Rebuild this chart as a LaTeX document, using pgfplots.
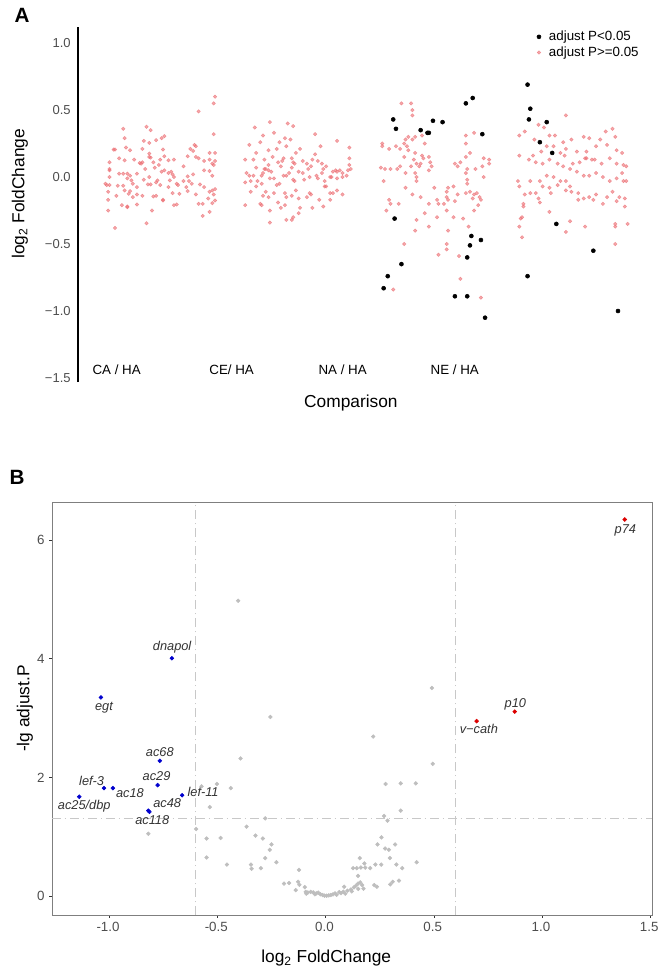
\documentclass[border=0pt]{standalone}
\usepackage{fontspec}
\setmainfont{Liberation Sans}
\usepackage{pgfplots}
\usepackage{pgfplotstable}
\pgfplotsset{compat=1.18}
\definecolor{pinkpt}{RGB}{236,110,115}
\definecolor{tickgrey}{RGB}{77,77,77}
\definecolor{greypt}{RGB}{190,190,190}
\definecolor{bluept}{RGB}{0,0,205}
\definecolor{redpt}{RGB}{220,0,0}
\definecolor{boxgrey}{RGB}{127,127,127}
\definecolor{refgrey}{RGB}{200,200,200}
\definecolor{genegrey}{RGB}{51,51,51}

% Panel A: jittered log2 fold changes (x = category 1..4 + jitter)
\pgfplotstableread{
x y
1.39 0.60
1.38 0.55
1.27 0.49
1.38 0.32
0.72 0.36
0.89 0.375
0.92 0.35
1.02 0.305
1.00 0.29
0.73 0.29
0.87 0.27
0.91 0.255
0.96 0.275
0.65 0.205
0.66 0.205
0.74 0.22
0.77 0.20
0.86 0.21
0.91 0.175
1.01 0.205
1.02 0.155
0.99 0.13
1.21 0.21
1.24 0.24
1.25 0.23
1.23 0.195
1.25 0.15
1.27 0.14
1.35 0.18
1.39 0.18
1.31 0.12
1.35 0.13
1.39 0.12
1.37 0.10
1.38 0.09
0.62 0.11
0.69 0.14
0.73 0.125
0.80 0.13
0.84 0.105
0.85 0.10
0.86 0.11
0.91 0.15
0.92 0.145
0.95 0.07
0.94 0.11
0.98 0.09
1.05 0.125
1.09 0.13
1.16 0.08
1.19 0.155
0.62 0.06
0.62 0.05
0.69 0.025
0.72 0.025
0.75 0.025
0.77 0.01
0.82 0.025
0.88 0.06
0.87 -0.02
0.91 0.0
0.92 -0.055
0.96 -0.04
0.97 -0.025
1.00 0.04
1.02 0.05
1.05 0.03
1.07 0.04
1.08 0.02
1.09 0.0
1.06 -0.025
1.11 -0.05
1.12 -0.06
1.16 -0.03
1.19 0.005
1.20 -0.03
1.23 0.02
1.31 0.05
1.35 0.045
1.37 0.01
0.59 -0.05
0.60 -0.06
0.62 -0.06
0.62 0.0
0.68 -0.065
0.72 -0.065
0.75 -0.01
0.78 -0.025
0.79 -0.05
0.82 -0.075
0.90 -0.055
0.99 -0.06
1.05 -0.075
1.13 -0.125
1.19 -0.105
1.18 -0.075
1.22 -0.05
1.28 -0.055
1.31 -0.075
1.35 -0.11
1.37 -0.10
1.39 -0.09
0.61 -0.11
0.67 -0.14
0.73 -0.10
0.77 -0.105
0.76 -0.125
0.79 -0.15
0.82 -0.13
0.86 -0.14
0.94 -0.145
0.96 -0.14
1.08 -0.12
1.25 -0.13
1.38 -0.13
0.61 -0.17
0.71 -0.21
0.75 -0.225
0.75 -0.22
0.82 -0.205
0.93 -0.25
1.01 -0.17
1.01 -0.175
1.09 -0.21
1.11 -0.205
1.27 -0.20
1.30 -0.20
1.30 -0.29
1.34 -0.16
1.37 -0.195
0.61 -0.25
0.66 -0.38
0.89 -0.345
1.35 -0.26
1.39 -0.175
1.79 0.41
1.92 0.40
1.96 0.38
1.68 0.37
1.82 0.33
1.74 0.31
2.12 0.32
1.90 0.29
1.94 0.28
1.86 0.26
1.72 0.26
1.64 0.24
2.28 0.27
1.84 0.21
2.01 0.21
2.37 0.22
2.16 0.23
1.78 0.20
1.91 0.23
1.98 0.18
1.69 0.18
2.12 0.17
1.81 0.15
1.89 0.14
1.95 0.14
2.37 0.14
1.67 0.13
1.75 0.13
1.88 0.12
1.96 0.11
2.03 0.12
2.10 0.13
2.14 0.12
1.78 0.09
1.85 0.11
1.87 0.08
1.75 0.06
1.76 0.06
1.78 0.05
1.80 0.04
1.74 0.03
1.69 0.07
1.73 0.01
1.95 0.07
1.97 0.10
2.06 0.10
2.09 0.08
2.17 0.10
2.20 0.08
2.27 0.05
2.28 0.04
2.30 0.05
2.32 0.03
2.35 0.01
2.37 0.09
2.38 0.06
2.36 0.05
2.25 0.04
2.23 0.0
2.18 0.06
2.17 0.03
2.07 0.06
2.03 0.03
2.00 0.04
1.93 0.03
1.91 0.01
1.89 0.01
1.82 -0.01
1.79 -0.01
1.67 0.01
1.64 0.01
1.65 -0.03
1.70 -0.03
1.73 -0.05
1.86 -0.05
1.84 -0.06
1.96 -0.02
1.97 -0.03
2.04 -0.02
2.08 0.0
2.13 0.01
2.14 -0.01
2.19 -0.03
2.24 0.0
2.28 -0.01
2.32 0.0
1.69 -0.07
1.65 -0.11
1.76 -0.11
1.82 -0.12
1.90 -0.12
1.98 -0.10
2.08 -0.12
2.09 -0.13
2.19 -0.07
2.20 -0.07
2.23 -0.12
2.25 -0.12
2.28 -0.10
2.32 -0.13
1.74 -0.14
1.78 -0.15
1.91 -0.15
1.95 -0.14
2.00 -0.16
2.06 -0.15
2.15 -0.17
2.23 -0.17
1.72 -0.20
1.73 -0.21
1.85 -0.19
1.90 -0.21
2.01 -0.23
2.10 -0.23
2.18 -0.22
1.79 -0.25
1.87 -0.23
2.00 -0.27
1.91 -0.32
1.95 -0.32
1.96 -0.30
1.79 -0.34
1.61 0.13
1.61 -0.04
1.61 -0.21
1.62 0.03
2.75 0.55
2.82 0.55
2.83 0.50
2.83 0.46
2.80 0.30
2.78 0.28
2.83 0.28
2.77 0.25
2.79 0.23
2.85 0.30
2.90 0.31
2.61 0.25
2.61 0.23
2.66 0.21
2.71 0.23
2.74 0.21
2.80 0.20
2.85 0.18
2.90 0.16
2.95 0.15
2.77 0.15
2.92 0.25
2.84 0.13
2.86 0.10
2.89 0.10
2.96 0.11
2.97 0.08
2.95 0.05
2.60 0.07
2.63 0.06
2.67 0.06
2.72 0.06
2.74 0.08
2.82 0.08
2.88 0.08
2.91 0.14
2.85 0.03
2.78 0.03
2.62 -0.03
2.66 -0.17
2.67 -0.20
2.64 -0.25
2.73 -0.20
2.78 -0.08
2.86 0.0
2.86 -0.03
2.83 -0.13
2.89 -0.15
2.86 -0.32
2.85 -0.40
2.92 -0.27
2.95 -0.20
2.99 -0.08
3.02 -0.20
3.01 -0.17
3.06 -0.20
3.08 -0.11
3.08 -0.15
3.09 -0.08
3.13 -0.07
3.16 -0.13
3.14 -0.18
3.13 -0.30
3.08 -0.25
3.09 -0.17
3.01 -0.30
2.95 -0.37
2.77 -0.50
3.22 0.31
3.28 0.33
3.22 0.25
3.25 0.18
3.22 0.15
3.18 0.11
3.14 0.10
3.16 0.08
3.23 0.06
3.22 0.03
3.23 -0.02
3.22 -0.12
3.23 -0.05
3.25 -0.11
3.28 -0.13
3.30 -0.12
3.32 -0.15
3.27 -0.16
3.33 -0.17
3.31 -0.21
3.28 -0.25
3.20 -0.31
3.24 -0.37
3.35 0.14
3.39 0.13
3.35 0.0
3.39 0.10
3.34 0.08
3.29 0.06
3.08 -0.54
3.08 -0.50
3.02 -0.58
3.18 -0.76
3.17 -0.59
3.09 -0.40
2.69 -0.84
3.33 -0.90
3.95 0.46
3.75 0.39
3.79 0.37
3.65 0.34
3.61 0.31
3.72 0.28
3.83 0.31
3.87 0.31
3.93 0.26
3.99 0.28
4.08 0.30
4.12 0.29
4.20 0.28
4.29 0.36
4.24 0.34
4.31 0.30
4.25 0.24
4.36 0.18
4.32 0.20
4.17 0.23
4.03 0.19
4.10 0.19
3.95 0.21
3.91 0.18
3.86 0.23
3.81 0.23
3.77 0.19
3.71 0.16
3.61 0.16
3.68 0.13
3.73 0.11
3.78 0.10
3.83 0.13
3.89 0.10
3.93 0.08
4.00 0.10
4.05 0.11
4.10 0.14
4.14 0.13
4.16 0.13
4.21 0.10
4.27 0.14
4.32 0.10
4.37 0.09
4.39 0.08
4.36 0.03
4.32 -0.01
4.27 -0.03
4.22 0.0
4.17 0.03
4.12 0.01
4.08 0.01
4.03 0.04
3.98 0.06
3.95 -0.03
3.91 -0.03
3.86 0.0
3.81 0.01
3.76 -0.03
3.69 -0.03
3.60 -0.03
3.61 -0.07
3.65 -0.13
3.69 -0.12
3.73 -0.12
3.75 -0.16
3.78 -0.07
3.83 -0.08
3.89 -0.06
3.98 -0.07
4.04 -0.12
4.08 -0.16
4.12 -0.15
4.17 -0.13
4.25 -0.15
4.29 -0.11
4.34 -0.15
4.38 -0.22
4.38 -0.16
4.37 -0.03
4.32 -0.18
4.22 -0.20
4.15 -0.17
4.04 -0.17
3.99 -0.11
3.95 -0.10
3.84 -0.12
3.83 -0.26
3.76 -0.19
3.64 -0.22
3.63 -0.30
3.62 -0.31
3.64 -0.20
3.61 -0.37
3.63 -0.45
3.95 -0.41
3.98 -0.33
4.09 -0.37
4.31 -0.35
4.31 -0.37
4.40 -0.35
4.31 -0.50
4.39 -0.03
4.09 0.14
3.94 0.16
}\pinkdata

\pgfplotstableread{
x y
2.69 0.43
2.71 0.36
2.89 0.35
2.94 0.33
2.95 0.33
2.98 0.42
3.05 0.41
3.22 0.55
3.27 0.59
3.34 0.32
2.70 -0.31
2.75 -0.65
2.65 -0.74
2.62 -0.83
3.14 -0.89
3.23 -0.89
3.23 -0.60
3.25 -0.51
3.26 -0.44
3.33 -0.47
3.36 -1.05
3.67 0.69
3.69 0.51
3.68 0.43
3.81 0.41
3.76 0.26
3.85 0.18
3.88 -0.35
4.15 -0.55
3.67 -0.74
4.33 -1.00
}\blackdata

% Panel B: volcano plot
\pgfplotstableread{
x y
-0.82 1.05
-0.405 4.98
-0.256 3.02
-0.394 2.32
-0.503 1.89
-0.439 1.82
-0.574 1.85
-0.536 1.50
-0.28 1.31
-0.599 1.13
-0.366 1.17
-0.551 0.97
-0.486 0.98
-0.325 1.02
-0.291 0.97
-0.251 0.87
-0.259 0.78
-0.551 0.65
-0.28 0.64
-0.228 0.57
-0.457 0.53
-0.346 0.53
-0.30 0.47
-0.343 0.46
-0.124 0.44
-0.193 0.21
-0.17 0.22
-0.128 0.24
-0.122 0.19
-0.139 0.10
-0.097 0.15
-0.093 0.07
-0.083 0.06
-0.07 0.07
-0.058 0.06
-0.044 0.045
-0.035 0.056
-0.025 0.03
-0.015 0.017
-0.006 0.006
0.004 0.006
0.014 0.011
0.023 0.017
0.033 0.028
0.043 0.045
0.062 0.067
0.081 0.073
0.085 0.157
0.10 0.09
0.116 0.11
0.13 0.146
0.139 0.174
0.149 0.21
0.159 0.23
0.168 0.185
0.174 0.124
0.149 0.34
0.126 0.47
0.143 0.47
0.162 0.48
0.182 0.48
0.157 0.64
0.178 0.55
0.205 0.47
0.229 0.53
0.256 0.53
0.224 0.185
0.236 0.157
0.298 0.197
0.309 0.24
0.338 0.26
0.326 0.53
0.353 0.47
0.42 0.57
0.296 0.64
0.239 0.87
0.274 0.80
0.291 0.78
0.32 0.87
0.257 0.99
0.269 1.35
0.285 1.27
0.346 1.44
0.276 1.89
0.346 1.90
0.416 1.90
0.219 2.69
0.494 2.23
0.49 3.51
-0.05 0.03
0.05 0.02
0.07 0.05
-0.09 0.04
0.12 0.08
0.15 0.12
0.09 0.04
}\greydata

\pgfplotstableread{
x y
-0.711 4.01
-1.039 3.35
-0.767 2.28
-0.777 1.87
-1.025 1.82
-0.984 1.82
-1.139 1.675
-0.664 1.70
-0.820 1.44
-0.815 1.42
}\downdata

\pgfplotstableread{
x y
1.381 6.35
0.873 3.11
0.697 2.95
}\updata

\begin{document}
\begin{tikzpicture}
\begin{scope}[x=0.75pt,y=-0.75pt]
\useasboundingbox (0,0) rectangle (656,972);
\node[font=\fontsize{15.5}{17}\selectfont\bfseries] at (22,15) {A};
\node[font=\fontsize{15.5}{17}\selectfont\bfseries] at (17,477) {B};
\end{scope}

\begin{axis}[
  at={(58.5pt,-286.5pt)}, anchor=south west, scale only axis,
  width=432.75pt, height=266.25pt,
  xmin=0.39, xmax=4.6, ymin=-1.53, ymax=1.12,
  axis x line=none, axis y line*=left,
  axis line style={-, line width=1.5pt, black},
  xtick=\empty,
  ytick={-1.5,-1,-0.5,0,0.5,1},
  yticklabels={−1.5,−1.0,−0.5,0.0,0.5,1.0},
  major tick length=0pt,
  yticklabel style={font=\fontsize{9.75}{11}\selectfont, text=tickgrey, xshift=-2pt},
  ylabel={log\textsubscript{2} FoldChange},
  ylabel style={at={(axis description cs:-0.1005,0.53)}, anchor=center, font=\fontsize{13}{15}\selectfont},
  clip=false,
  reverse legend,
  legend cell align=left,
  legend image code/.code={\draw[#1] plot coordinates {(0pt,0pt)};},
  legend style={at={(axis description cs:0.795,0.997)}, anchor=north west, draw=none, fill=none,
    font=\fontsize{10}{11}\selectfont, row sep=-1pt, column sep=4pt, inner sep=0pt},
]
\addplot[only marks, mark=*, mark size=1.3pt, color=pinkpt, opacity=0.6] table[x=x,y=y] {\pinkdata};
\addlegendentry{adjust P>=0.05}
\addplot[only marks, mark=*, mark size=1.5pt, color=black] table[x=x,y=y] {\blackdata};
\addlegendentry{adjust P<0.05}
\node[font=\fontsize{10}{12}\selectfont] at (axis cs:0.672,-1.44) {CA / HA};
\node[font=\fontsize{10}{12}\selectfont] at (axis cs:1.511,-1.44) {CE/ HA};
\node[font=\fontsize{10}{12}\selectfont] at (axis cs:2.321,-1.44) {NA / HA};
\node[font=\fontsize{10}{12}\selectfont] at (axis cs:3.139,-1.44) {NE / HA};
\node[font=\fontsize{13}{15}\selectfont] at (axis description cs:0.473,-0.059) {Comparison};
\end{axis}

\begin{axis}[
  at={(39pt,-686.25pt)}, anchor=south west, scale only axis,
  width=450pt, height=309.75pt,
  xmin=-1.265, xmax=1.507, ymin=-0.32, ymax=6.645,
  axis line style={boxgrey, line width=0.7pt},
  tick align=outside, xtick pos=bottom, ytick pos=left,
  major tick length=2pt,
  tick style={black!80, line width=0.6pt},
  xtick={-1,-0.5,0,0.5,1,1.5}, xticklabels={-1.0,-0.5,0.0,0.5,1.0,1.5},
  ytick={0,2,4,6}, yticklabels={0,2,4,6},
  ticklabel style={font=\fontsize{10}{11}\selectfont, text=tickgrey},
  xticklabel style={xshift=-1pt},
  xlabel={log\textsubscript{2} FoldChange},
  ylabel={-lg adjust.P},
  xlabel style={at={(axis description cs:0.457,-0.104)}, anchor=center, font=\fontsize{13}{15}\selectfont},
  ylabel style={at={(axis description cs:-0.045,0.5)}, anchor=center, font=\fontsize{13}{15}\selectfont},
  clip=false,
]
\addplot[refgrey, line width=0.7pt, dash pattern=on 6.5pt off 3pt on 1pt off 3pt] coordinates {(-0.6,-0.32) (-0.6,6.645)};
\addplot[refgrey, line width=0.7pt, dash pattern=on 6.5pt off 3pt on 1pt off 3pt] coordinates {(0.6,-0.32) (0.6,6.645)};
\addplot[refgrey, line width=0.7pt, dash pattern=on 6.5pt off 3pt on 1pt off 3pt] coordinates {(-1.265,1.301) (1.507,1.301)};
\addplot[only marks, mark=*, mark size=1.4pt, color=greypt] table[x=x,y=y] {\greydata};
\addplot[only marks, mark=*, mark size=1.45pt, color=bluept] table[x=x,y=y] {\downdata};
\addplot[only marks, mark=*, mark size=1.45pt, color=redpt] table[x=x,y=y] {\updata};
\begin{scope}[every node/.style={font=\fontsize{9.6}{11}\selectfont\itshape, text=genegrey, inner sep=0pt}]
\node at (axis cs:-0.710,4.19) {dnapol};
\node at (axis cs:-1.025,3.18) {egt};
\node at (axis cs:-0.767,2.43) {ac68};
\node at (axis cs:-0.782,2.03) {ac29};
\node at (axis cs:-1.082,1.94) {lef-3};
\node at (axis cs:-0.905,1.73) {ac18};
\node at (axis cs:-1.116,1.51) {ac25/dbp};
\node at (axis cs:-0.567,1.75) {lef-11};
\node at (axis cs:-0.733,1.56) {ac48};
\node at (axis cs:-0.802,1.28) {ac118};
\node at (axis cs:1.384,6.17) {p74};
\node at (axis cs:0.876,3.24) {p10};
\node at (axis cs:0.707,2.81) {v−cath};
\end{scope}
\end{axis}
\end{tikzpicture}
\end{document}
